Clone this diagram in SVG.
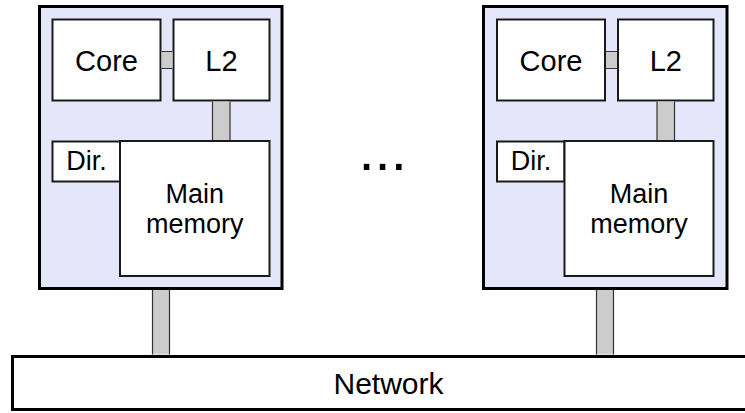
<svg xmlns="http://www.w3.org/2000/svg" width="745" height="413" viewBox="0 0 745 413">
  <style>
    .tile { fill: #e6e6fa; stroke: #000; stroke-width: 3; }
    .box { fill: #fff; stroke: #1a1a1a; stroke-width: 2; }
    .net { fill: #fff; stroke: #000; stroke-width: 3; }
    .lbl { font-family: "Liberation Sans", Arial, sans-serif; font-size: 27px; fill: #000; text-anchor: middle; }
    .big { font-size: 29px; }
    .netlbl { font-size: 30px; }
    .link { fill: #cccccc; stroke: none; }
    .edge { fill: none; stroke: #333; stroke-width: 1.2; }
  </style>

  <!-- Tile 0 -->
  <g id="tile0"><rect class="tile" x="39.5" y="6.5" width="242.5" height="282"/></g>
  <g id="core0"><rect class="box" x="52.5" y="19.5" width="108" height="81"/><text class="lbl big" x="106.5" y="70.5">Core</text></g>
  <g id="l2_0"><rect class="box" x="173.5" y="19.5" width="96" height="81"/><text class="lbl big" x="221.5" y="70.5">L2</text></g>
  <g id="dir0"><rect class="box" x="52.5" y="141.5" width="67.5" height="40"/><text class="lbl" x="86.5" y="170">Dir.</text></g>
  <g id="mem0"><rect class="box" x="120" y="141" width="149.5" height="135"/><text class="lbl" x="194.7" y="202.5">Main</text><text class="lbl" x="194.7" y="233">memory</text></g>

  <!-- Tile 1 -->
  <g id="tile1" transform="translate(444 0)"><rect class="tile" x="39.5" y="6.5" width="243.5" height="282"/></g>
  <g id="core1" transform="translate(444 0)"><rect class="box" x="53" y="19.5" width="108" height="81"/><text class="lbl big" x="107" y="70.5">Core</text></g>
  <g id="l2_1" transform="translate(444 0)"><rect class="box" x="174" y="19.5" width="95.5" height="81"/><text class="lbl big" x="221.8" y="70.5">L2</text></g>
  <g id="dir1" transform="translate(444 0)"><rect class="box" x="53" y="141.5" width="67.5" height="40"/><text class="lbl" x="87" y="170">Dir.</text></g>
  <g id="mem1" transform="translate(444 0)"><rect class="box" x="120.5" y="141" width="149" height="135"/><text class="lbl" x="195" y="202.5">Main</text><text class="lbl" x="195" y="233">memory</text></g>

  <!-- Interconnect -->
  <g id="network"><rect class="net" x="12.5" y="356.5" width="740" height="53"/><text class="lbl netlbl" x="388.5" y="393.5">Network</text></g>

  <!-- Ellipsis between tiles -->
  <text x="358.5" y="170" font-family="Liberation Sans, Arial, sans-serif" font-size="58" fill="#000">...</text>

  <!-- Links between blocks -->
  <g id="connectors">
    <g id="core0-l2_0"><rect class="link" x="161.5" y="51.5" width="11" height="17"/><path class="edge" d="M161.5 51.5H172.5M161.5 68.5H172.5"/></g>
    <g id="l2_0-mem0"><rect class="link" x="212.5" y="101.5" width="17.5" height="38.5"/><path class="edge" d="M212.5 101.5V140M230 101.5V140"/></g>
    <g id="tile0-network"><rect class="link" x="152.5" y="290" width="17" height="64.5"/><path class="edge" d="M152.5 290V354.5M169.5 290V354.5"/></g>
    <g id="core1-l2_1" transform="translate(444 0)"><rect class="link" x="162" y="51.5" width="11" height="17"/><path class="edge" d="M162 51.5H173M162 68.5H173"/></g>
    <g id="l2_1-mem1" transform="translate(444 0)"><rect class="link" x="213" y="101.5" width="17.5" height="38.5"/><path class="edge" d="M213 101.5V140M230.5 101.5V140"/></g>
    <g id="tile1-network" transform="translate(444 0)"><rect class="link" x="152.5" y="290" width="17" height="64.5"/><path class="edge" d="M152.5 290V354.5M169.5 290V354.5"/></g>
  </g>
</svg>
